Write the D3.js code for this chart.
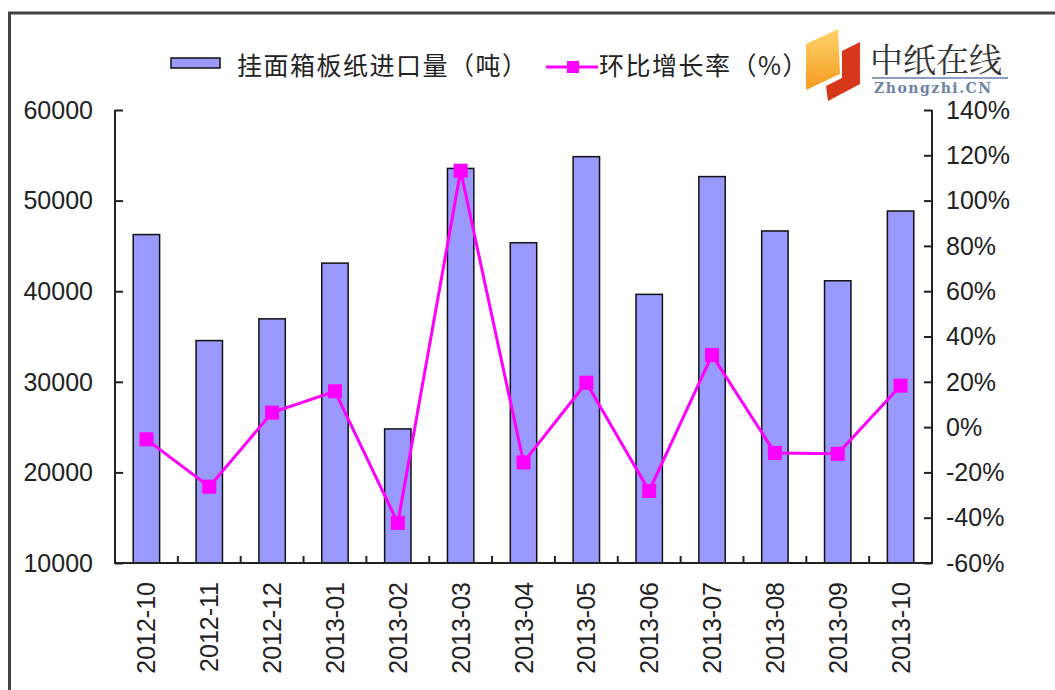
<!DOCTYPE html>
<html>
<head>
<meta charset="utf-8">
<script src="https://cdn.jsdelivr.net/npm/d3@7"></script>
<style>
  body { margin: 0; background: #fff; }
  svg { display: block; }
</style>
</head>
<body>
<svg id="chart"></svg>
<script>
let width = 1055;
let height = 690;

// data
let months = ["2012-10", "2012-11", "2012-12", "2013-01", "2013-02", "2013-03", "2013-04",
    "2013-05", "2013-06", "2013-07", "2013-08", "2013-09", "2013-10"];
let imports = [46250, 34550, 36950, 43100, 24800, 53550, 45350, 54850, 39650, 52650, 46650, 41150, 48850];
let growth = [-5.4, -26.3, 6.4, 15.8, -42.3, 113.2, -15.6, 19.6, -28.2, 31.8, -11.4, -11.8, 18.3];
let leftTicks = [10000, 20000, 30000, 40000, 50000, 60000];
let rightTicks = [-60, -40, -20, 0, 20, 40, 60, 80, 100, 120, 140];

let plot = { left: 115, right: 932, top: 110, bottom: 563 };
let axisFont = "'Liberation Sans', Arial, sans-serif";
let cjkFont = "'Noto Sans CJK SC', sans-serif";

let svg = d3.select("#chart")
    .attr("width", width)
    .attr("height", height);

// outer frame (top and left edges only visible)
svg.append("path")
    .attr("d", "M9.5,690 V13 H1055")
    .attr("fill", "none")
    .attr("stroke", "#444")
    .attr("stroke-width", 3);

let x = d3.scaleBand()
    .domain(months)
    .range([plot.left, plot.right])
    .padding(0);

let yLeft = d3.scaleLinear()
    .domain([10000, 60000])
    .range([plot.bottom, plot.top]);

let yRight = d3.scaleLinear()
    .domain([-60, 140])
    .range([plot.bottom, plot.top]);

let barW = x.bandwidth() * 0.42;

// bars
svg.append("g")
    .selectAll("rect")
    .data(imports)
    .enter().append("rect")
    .attr("x", (d, i) => x(months[i]) + x.bandwidth() / 2 - barW / 2)
    .attr("y", d => yLeft(d))
    .attr("width", barW)
    .attr("height", d => plot.bottom - yLeft(d))
    .attr("fill", "#9999ff")
    .attr("stroke", "#111")
    .attr("stroke-width", 1.5);

// left axis, ticks pointing inward
let leftAxis = svg.append("g")
    .attr("transform", "translate(" + plot.left + ",0)")
    .call(d3.axisRight(yLeft).tickValues(leftTicks).tickSize(8).tickFormat(""));
leftAxis.select(".domain").remove();
leftAxis.selectAll("line").attr("stroke", "#222").attr("stroke-width", 2);
svg.append("g").selectAll("text")
    .data(leftTicks)
    .enter().append("text")
    .attr("x", 93)
    .attr("y", d => yLeft(d))
    .attr("dy", "0.35em")
    .attr("text-anchor", "end")
    .attr("font-family", axisFont)
    .attr("font-size", 25)
    .attr("fill", "#222")
    .text(d => d);

// right axis, ticks pointing inward
let rightAxis = svg.append("g")
    .attr("transform", "translate(" + plot.right + ",0)")
    .call(d3.axisLeft(yRight).tickValues(rightTicks).tickSize(8).tickFormat(""));
rightAxis.select(".domain").remove();
rightAxis.selectAll("line").attr("stroke", "#222").attr("stroke-width", 2);
svg.append("g").selectAll("text")
    .data(rightTicks)
    .enter().append("text")
    .attr("x", 946)
    .attr("y", d => yRight(d))
    .attr("dy", "0.35em")
    .attr("text-anchor", "start")
    .attr("font-family", axisFont)
    .attr("font-size", 25)
    .attr("fill", "#222")
    .text(d => d + "%");

// axis lines
svg.append("path")
    .attr("d", "M" + plot.left + "," + plot.top + " V" + plot.bottom + " H" + plot.right + " V" + plot.top)
    .attr("fill", "none")
    .attr("stroke", "#222")
    .attr("stroke-width", 2);

// category separators on the bottom axis
svg.append("g").selectAll("line")
    .data(months.slice(1))
    .enter().append("line")
    .attr("x1", d => x(d))
    .attr("x2", d => x(d))
    .attr("y1", plot.bottom)
    .attr("y2", plot.bottom - 7)
    .attr("stroke", "#222")
    .attr("stroke-width", 2);

// rotated category labels
svg.append("g").selectAll("text")
    .data(months)
    .enter().append("text")
    .attr("transform", d => "translate(" + (x(d) + x.bandwidth() / 2) + ",582) rotate(-90)")
    .attr("dy", "0.36em")
    .attr("text-anchor", "end")
    .attr("font-family", axisFont)
    .attr("font-size", 25)
    .attr("fill", "#222")
    .text(d => d);

// growth line
let line = d3.line()
    .x((d, i) => x(months[i]) + x.bandwidth() / 2)
    .y(d => yRight(d));

svg.append("path")
    .datum(growth)
    .attr("d", line)
    .attr("fill", "none")
    .attr("stroke", "#ff00ff")
    .attr("stroke-width", 3);

svg.append("g").selectAll("rect")
    .data(growth)
    .enter().append("rect")
    .attr("x", (d, i) => x(months[i]) + x.bandwidth() / 2 - 7)
    .attr("y", d => yRight(d) - 7)
    .attr("width", 14)
    .attr("height", 14)
    .attr("fill", "#ff00ff");

// legend
let legend = svg.append("g");
legend.append("rect")
    .attr("x", 171).attr("y", 58)
    .attr("width", 49).attr("height", 10)
    .attr("fill", "#9999ff")
    .attr("stroke", "#111")
    .attr("stroke-width", 1.5);
legend.append("text")
    .attr("x", 237).attr("y", 66)
    .attr("dy", "0.36em")
    .attr("font-family", cjkFont)
    .attr("font-size", 25)
    .attr("letter-spacing", 1.5)
    .attr("fill", "#222")
    .text("挂面箱板纸进口量（吨）");
legend.append("line")
    .attr("x1", 546).attr("x2", 598)
    .attr("y1", 67).attr("y2", 67)
    .attr("stroke", "#ff00ff")
    .attr("stroke-width", 3);
legend.append("rect")
    .attr("x", 567).attr("y", 61)
    .attr("width", 12).attr("height", 12)
    .attr("fill", "#ff00ff");
legend.append("text")
    .attr("x", 599).attr("y", 66)
    .attr("dy", "0.36em")
    .attr("font-family", cjkFont)
    .attr("font-size", 25)
    .attr("letter-spacing", 1.5)
    .attr("fill", "#222")
    .text("环比增长率（%）");

// watermark logo
let logo = svg.append("g");
let grad = svg.append("defs").append("linearGradient")
    .attr("id", "logoOrange")
    .attr("x1", "0").attr("y1", "0").attr("x2", "0").attr("y2", "1");
grad.append("stop").attr("offset", "0").attr("stop-color", "#ffd36a");
grad.append("stop").attr("offset", "1").attr("stop-color", "#f39a1e");
logo.append("path")
    .attr("d", "M806,44 L838,29 L840,74 L806,90 Z")
    .attr("fill", "url(#logoOrange)");
logo.append("path")
    .attr("d", "M842,51 L860,42 L860,84 L828,101 L826,86 L842,78 Z")
    .attr("fill", "#d8381a");
logo.append("text")
    .attr("x", 870).attr("y", 72)
    .attr("font-family", "'Noto Serif CJK SC', 'Noto Sans CJK SC', serif")
    .attr("font-size", 33)
    .attr("fill", "#333")
    .text("中纸在线");
logo.append("line")
    .attr("x1", 872).attr("x2", 1008)
    .attr("y1", 78).attr("y2", 78)
    .attr("stroke", "#8aa0c0")
    .attr("stroke-width", 2);
logo.append("text")
    .attr("x", 874).attr("y", 93)
    .attr("font-family", "'DejaVu Serif', 'Liberation Serif', serif")
    .attr("font-size", 14)
    .attr("font-weight", "bold")
    .attr("letter-spacing", 1.5)
    .attr("fill", "#6d84a8")
    .text("Zhongzhi.CN");
</script>
</body>
</html>
